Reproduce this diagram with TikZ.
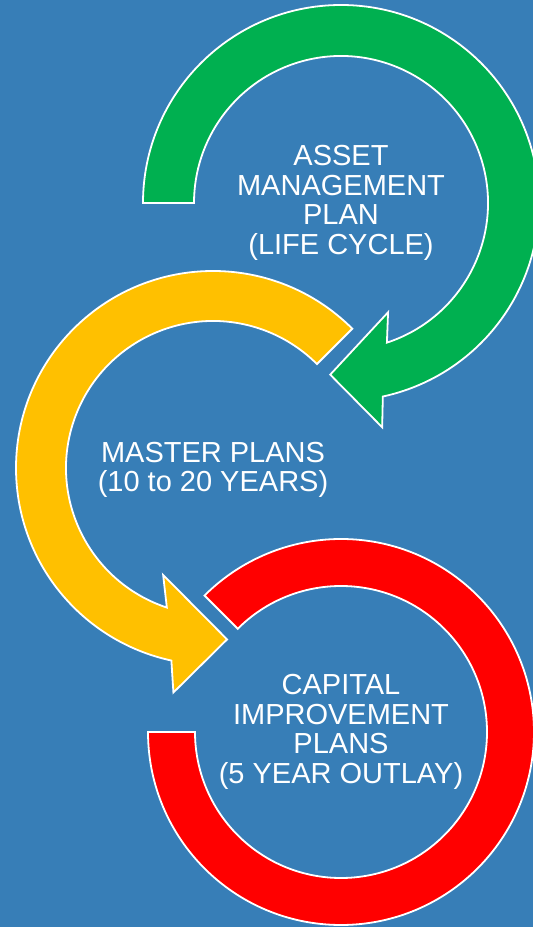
\documentclass[tikz,border=0pt]{standalone}
\usepackage{fontspec}
\setmainfont{Liberation Sans}
\definecolor{bgblue}{RGB}{55,126,183}
\definecolor{ringgreen}{RGB}{0,176,80}
\definecolor{ringyellow}{RGB}{255,192,0}
\definecolor{ringred}{RGB}{255,0,0}
\tikzset{
  ring/.style={draw=white,line width=1.8pt,line join=miter},
  label/.style={align=center,text=white,font=\fontsize{29}{29.5}\selectfont}
}
\begin{document}
\begin{tikzpicture}[x=1pt,y=1pt]
  \fill[bgblue] (0,0) rectangle (533,927);
  \useasboundingbox (0,0) rectangle (533,927);

  \coordinate (gc) at (341,724);
  \coordinate (yc) at (213,459);
  \coordinate (rc) at (341,195);

  % red ring, no head
  \begin{scope}[shift={(rc)}]
    \draw[ring,fill=ringred] (180:193) arc[start angle=180,end angle=495,radius=193pt]
      -- (495:146) arc[start angle=495,end angle=180,radius=146pt] -- cycle;
  \end{scope}

  % yellow arrow, counterclockwise
  \begin{scope}[shift={(yc)}]
    \draw[ring,fill=ringyellow] (45:197) arc[start angle=45,end angle=257.8,radius=197pt]
      -- (260:228) -- (274.7:172) -- (245:118) -- (251.7:147)
      arc[start angle=251.7,end angle=45,radius=147pt] -- cycle;
  \end{scope}

  % green arrow, clockwise
  \begin{scope}[shift={(gc)}]
    \draw[ring,fill=ringgreen] (180:198) arc[start angle=180,end angle=-77.8,radius=198pt]
      -- (-79.6:228) -- (-93.6:172) -- (-66.7:119) -- (-71.8:147)
      arc[start angle=-71.8,end angle=180,radius=147pt] -- cycle;
  \end{scope}

  \node[label] (asset) at (gc) {ASSET\\MANAGEMENT\\PLAN\\(LIFE CYCLE)};
  \node[label] (master) at ([yshift=-2]yc) {MASTER PLANS\\(10 to 20 YEARS)};
  \node[label] (capital) at (rc) {CAPITAL\\IMPROVEMENT\\PLANS\\(5 YEAR OUTLAY)};
\end{tikzpicture}
\end{document}
